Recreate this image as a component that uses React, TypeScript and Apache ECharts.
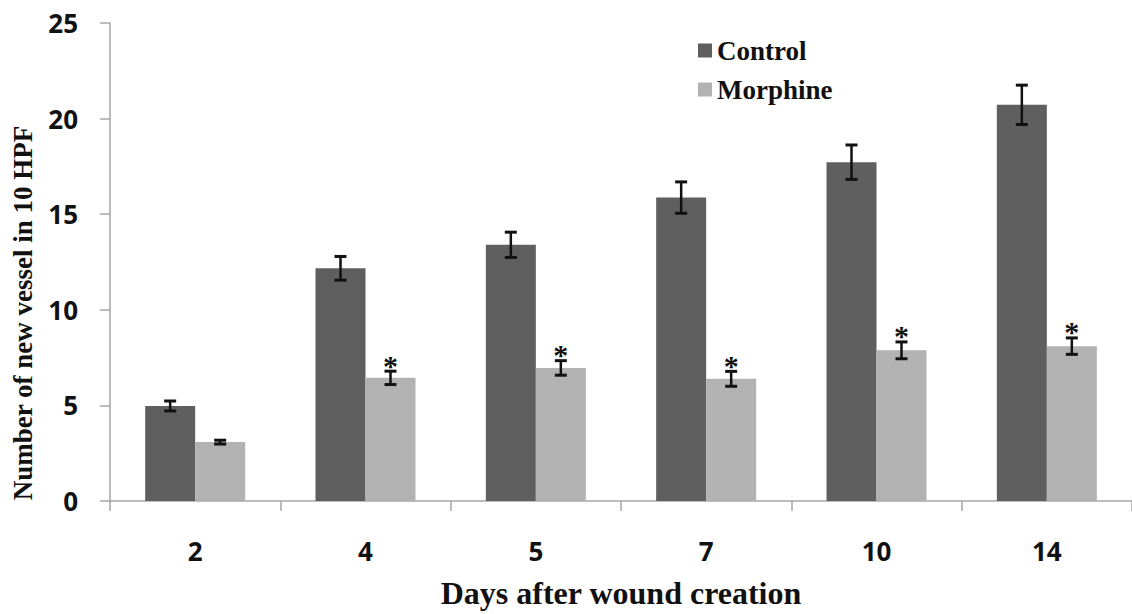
import React, { useEffect, useRef } from "react";
import * as echarts from "echarts";

const categories = ["2", "4", "5", "7", "10", "14"];
const controlValues = [4.97, 12.17, 13.4, 15.87, 17.72, 20.72];
const controlErrors = [0.26, 0.62, 0.66, 0.82, 0.9, 1.03];
const morphineValues = [3.08, 6.44, 6.96, 6.39, 7.88, 8.1];
const morphineErrors = [0.1, 0.35, 0.38, 0.39, 0.44, 0.43];
const morphineStars = [false, true, true, true, true, true];
const yTicks = { min: 0, max: 25, interval: 5 };

const CONTROL_COLOR = "#5f5f5f";
const MORPHINE_COLOR = "#b2b2b2";
const AXIS_COLOR = "#a6a6a6";
const BAR_W = 50;

function errorSeries(name: string, values: number[], errors: number[], stars: boolean[] | null, offset: number) {
  return {
    type: "custom",
    name,
    silent: true,
    z: 5,
    data: values.map((v, i) => [i, v, errors[i], stars && stars[i] ? 1 : 0]),
    renderItem: (params: any, api: any) => {
      const idx = api.value(0);
      const v = api.value(1);
      const e = api.value(2);
      const star = api.value(3);
      const hi = api.coord([idx, v + e]);
      const lo = api.coord([idx, v - e]);
      const x = hi[0] + offset;
      const cap = 6;
      const style = { stroke: "#111", lineWidth: 2.5 };
      const children: any[] = [
        { type: "line", shape: { x1: x, y1: hi[1], x2: x, y2: lo[1] }, style },
        { type: "line", shape: { x1: x - cap, y1: hi[1], x2: x + cap, y2: hi[1] }, style: { stroke: "#111", lineWidth: 3 } },
        { type: "line", shape: { x1: x - cap, y1: lo[1], x2: x + cap, y2: lo[1] }, style: { stroke: "#111", lineWidth: 3 } },
      ];
      if (star) {
        children.push({
          type: "text",
          x,
          y: hi[1] + 9,
          style: {
            text: "*",
            fill: "#111",
            font: "bold 30px 'Liberation Serif'",
            align: "center",
            verticalAlign: "bottom",
          },
        });
      }
      return { type: "group", children };
    },
  };
}

export default function App() {
  const ref = useRef<HTMLDivElement>(null);
  useEffect(() => {
    document.body.style.margin = "0";
    const chart = echarts.init(ref.current!, null, { renderer: "svg" });
    chart.setOption({
      animation: false,
      backgroundColor: "#ffffff",
      grid: { left: 110, top: 23, width: 1029, height: 480 },
      legend: {
        data: [
          { name: "Control", itemStyle: { color: CONTROL_COLOR } },
          { name: "Morphine", itemStyle: { color: MORPHINE_COLOR } },
        ],
        orient: "vertical",
        left: 693,
        top: 32,
        itemWidth: 14,
        itemHeight: 14,
        itemGap: 12,
        icon: "rect",
        textStyle: {
          fontFamily: "'Liberation Serif'",
          fontWeight: "bold",
          fontSize: 27,
          color: "#111",
        },
      },
      xAxis: {
        type: "category",
        data: categories,
        boundaryGap: true,
        name: "Days after wound creation",
        nameLocation: "middle",
        nameGap: 76,
        nameTextStyle: {
          fontFamily: "'Liberation Serif'",
          fontWeight: "bold",
          fontSize: 32,
          color: "#111",
        },
        axisLine: { lineStyle: { color: AXIS_COLOR, width: 1.5 } },
        axisTick: { show: true, length: 10, lineStyle: { color: AXIS_COLOR, width: 1.5 } },
        axisLabel: {
          margin: 37,
          fontFamily: "'Open Sans'",
          fontWeight: "bold",
          fontSize: 26,
          color: "#111",
        },
        splitLine: { show: false },
      },
      yAxis: {
        type: "value",
        min: yTicks.min,
        max: yTicks.max,
        interval: yTicks.interval,
        axisLine: { show: true, lineStyle: { color: AXIS_COLOR, width: 1.5 } },
        axisTick: { show: true, length: 10, lineStyle: { color: AXIS_COLOR, width: 1.5 } },
        axisLabel: {
          margin: 32,
          fontFamily: "'Open Sans'",
          fontWeight: "bold",
          fontSize: 26,
          color: "#111",
        },
        splitLine: { show: false },
      },
      graphic: [
        {
          type: "text",
          x: 23,
          y: 313,
          rotation: Math.PI / 2,
          style: {
            text: "Number of new vessel in 10 HPF",
            font: "bold 27px 'Liberation Serif'",
            fill: "#111",
            align: "center",
            verticalAlign: "middle",
          },
        },
      ],
      series: [
        {
          type: "bar",
          name: "Control",
          data: controlValues,
          barWidth: BAR_W,
          barGap: "0%",
          itemStyle: { color: CONTROL_COLOR },
        },
        {
          type: "bar",
          name: "Morphine",
          data: morphineValues,
          barWidth: BAR_W,
          barGap: "0%",
          itemStyle: { color: MORPHINE_COLOR },
        },
        errorSeries("ControlErr", controlValues, controlErrors, null, -BAR_W / 2),
        errorSeries("MorphineErr", morphineValues, morphineErrors, morphineStars, BAR_W / 2),
      ],
    });
    return () => chart.dispose();
  }, []);
  return <div ref={ref} style={{ width: 1132, height: 614 }} />;
}
